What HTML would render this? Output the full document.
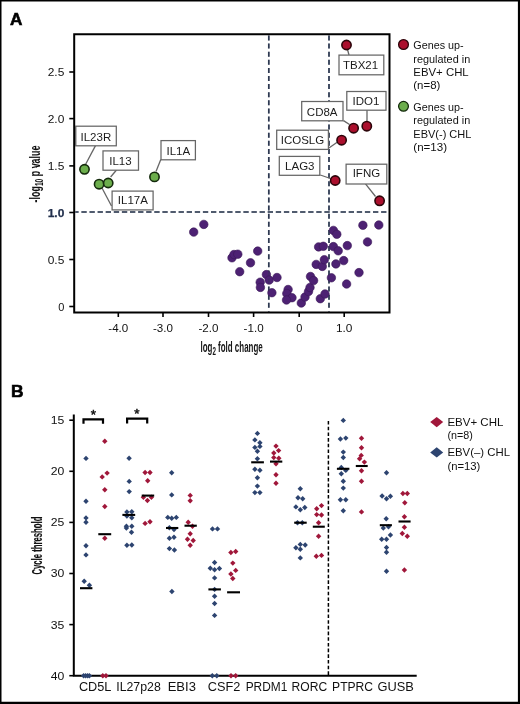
<!DOCTYPE html>
<html><head><meta charset="utf-8"><style>
html,body{margin:0;padding:0;background:#fff;}
body{width:520px;height:704px;overflow:hidden;position:relative;}
svg{position:absolute;left:0;top:0;will-change:transform;}
text{font-family:"Liberation Sans", sans-serif;}
</style></head><body>

<svg width="520" height="704" viewBox="0 0 520 704" font-family='"Liberation Sans", sans-serif'>
<path d="M0 0H520V704H0Z M1.5 1.5V701.8H517.9V1.5Z" fill="#000" fill-rule="evenodd"/>
<line x1="268.8" y1="35.5" x2="268.8" y2="311.5" stroke="#2e3a52" stroke-width="1.7" stroke-dasharray="5 3.1"/>
<line x1="329" y1="35.5" x2="329" y2="311.5" stroke="#2e3a52" stroke-width="1.7" stroke-dasharray="5 3.1"/>
<line x1="75.3" y1="212" x2="388.5" y2="212" stroke="#2e3a52" stroke-width="1.5" stroke-dasharray="5.3 2.8" stroke-dashoffset="2"/>
<circle cx="203.8" cy="224.4" r="4.25" fill="#4d2173" stroke="#3a1858" stroke-width="0.6"/>
<circle cx="193.7" cy="232.1" r="4.25" fill="#4d2173" stroke="#3a1858" stroke-width="0.6"/>
<circle cx="232" cy="257.8" r="4.25" fill="#4d2173" stroke="#3a1858" stroke-width="0.6"/>
<circle cx="234" cy="254.5" r="4.25" fill="#4d2173" stroke="#3a1858" stroke-width="0.6"/>
<circle cx="237.8" cy="254.2" r="4.25" fill="#4d2173" stroke="#3a1858" stroke-width="0.6"/>
<circle cx="257.7" cy="251.1" r="4.25" fill="#4d2173" stroke="#3a1858" stroke-width="0.6"/>
<circle cx="250.5" cy="262.8" r="4.25" fill="#4d2173" stroke="#3a1858" stroke-width="0.6"/>
<circle cx="239.7" cy="271.7" r="4.25" fill="#4d2173" stroke="#3a1858" stroke-width="0.6"/>
<circle cx="266.4" cy="274.6" r="4.25" fill="#4d2173" stroke="#3a1858" stroke-width="0.6"/>
<circle cx="269.2" cy="280.1" r="4.25" fill="#4d2173" stroke="#3a1858" stroke-width="0.6"/>
<circle cx="277" cy="277.5" r="4.25" fill="#4d2173" stroke="#3a1858" stroke-width="0.6"/>
<circle cx="260.2" cy="282.2" r="4.25" fill="#4d2173" stroke="#3a1858" stroke-width="0.6"/>
<circle cx="260.4" cy="287.4" r="4.25" fill="#4d2173" stroke="#3a1858" stroke-width="0.6"/>
<circle cx="271.9" cy="292.7" r="4.25" fill="#4d2173" stroke="#3a1858" stroke-width="0.6"/>
<circle cx="288.1" cy="289.5" r="4.25" fill="#4d2173" stroke="#3a1858" stroke-width="0.6"/>
<circle cx="286.8" cy="293.5" r="4.25" fill="#4d2173" stroke="#3a1858" stroke-width="0.6"/>
<circle cx="292" cy="297.7" r="4.25" fill="#4d2173" stroke="#3a1858" stroke-width="0.6"/>
<circle cx="286.5" cy="300" r="4.25" fill="#4d2173" stroke="#3a1858" stroke-width="0.6"/>
<circle cx="301.3" cy="303" r="4.25" fill="#4d2173" stroke="#3a1858" stroke-width="0.6"/>
<circle cx="305" cy="297" r="4.25" fill="#4d2173" stroke="#3a1858" stroke-width="0.6"/>
<circle cx="308.5" cy="291.5" r="4.25" fill="#4d2173" stroke="#3a1858" stroke-width="0.6"/>
<circle cx="310" cy="287.5" r="4.25" fill="#4d2173" stroke="#3a1858" stroke-width="0.6"/>
<circle cx="310.5" cy="276.5" r="4.25" fill="#4d2173" stroke="#3a1858" stroke-width="0.6"/>
<circle cx="313.6" cy="280.6" r="4.25" fill="#4d2173" stroke="#3a1858" stroke-width="0.6"/>
<circle cx="320.3" cy="298.7" r="4.25" fill="#4d2173" stroke="#3a1858" stroke-width="0.6"/>
<circle cx="325" cy="294" r="4.25" fill="#4d2173" stroke="#3a1858" stroke-width="0.6"/>
<circle cx="316.2" cy="264.4" r="4.25" fill="#4d2173" stroke="#3a1858" stroke-width="0.6"/>
<circle cx="322.3" cy="266.4" r="4.25" fill="#4d2173" stroke="#3a1858" stroke-width="0.6"/>
<circle cx="324.3" cy="259.7" r="4.25" fill="#4d2173" stroke="#3a1858" stroke-width="0.6"/>
<circle cx="335.9" cy="263.9" r="4.25" fill="#4d2173" stroke="#3a1858" stroke-width="0.6"/>
<circle cx="343.7" cy="260.6" r="4.25" fill="#4d2173" stroke="#3a1858" stroke-width="0.6"/>
<circle cx="331.4" cy="277.8" r="4.25" fill="#4d2173" stroke="#3a1858" stroke-width="0.6"/>
<circle cx="346.6" cy="284" r="4.25" fill="#4d2173" stroke="#3a1858" stroke-width="0.6"/>
<circle cx="359" cy="272.6" r="4.25" fill="#4d2173" stroke="#3a1858" stroke-width="0.6"/>
<circle cx="318.6" cy="246.9" r="4.25" fill="#4d2173" stroke="#3a1858" stroke-width="0.6"/>
<circle cx="323.3" cy="246.3" r="4.25" fill="#4d2173" stroke="#3a1858" stroke-width="0.6"/>
<circle cx="333.4" cy="246.6" r="4.25" fill="#4d2173" stroke="#3a1858" stroke-width="0.6"/>
<circle cx="338.2" cy="250.8" r="4.25" fill="#4d2173" stroke="#3a1858" stroke-width="0.6"/>
<circle cx="347.3" cy="245.6" r="4.25" fill="#4d2173" stroke="#3a1858" stroke-width="0.6"/>
<circle cx="333.4" cy="230.4" r="4.25" fill="#4d2173" stroke="#3a1858" stroke-width="0.6"/>
<circle cx="336.8" cy="234.3" r="4.25" fill="#4d2173" stroke="#3a1858" stroke-width="0.6"/>
<circle cx="362.9" cy="225.3" r="4.25" fill="#4d2173" stroke="#3a1858" stroke-width="0.6"/>
<circle cx="378.8" cy="225" r="4.25" fill="#4d2173" stroke="#3a1858" stroke-width="0.6"/>
<circle cx="367.5" cy="241.9" r="4.25" fill="#4d2173" stroke="#3a1858" stroke-width="0.6"/>
<line x1="268.8" y1="35.5" x2="268.8" y2="311.5" stroke="#2e3a52" stroke-width="1.4" stroke-opacity="0.4" stroke-dasharray="5 3.1"/>
<line x1="329" y1="35.5" x2="329" y2="311.5" stroke="#2e3a52" stroke-width="1.4" stroke-opacity="0.4" stroke-dasharray="5 3.1"/>
<line x1="75.3" y1="212" x2="388.5" y2="212" stroke="#2e3a52" stroke-width="1.4" stroke-opacity="0.4" stroke-dasharray="5.3 2.8" stroke-dashoffset="2"/>
<line x1="85.5" y1="164.5" x2="95.5" y2="145.6" stroke="#666666" stroke-width="1.3"/>
<line x1="110.6" y1="177" x2="116.5" y2="170" stroke="#666666" stroke-width="1.3"/>
<line x1="102" y1="188" x2="111.5" y2="206" stroke="#666666" stroke-width="1.3"/>
<line x1="156" y1="171.5" x2="160.8" y2="159.6" stroke="#666666" stroke-width="1.3"/>
<line x1="347.5" y1="49.5" x2="349" y2="55" stroke="#666666" stroke-width="1.3"/>
<line x1="367" y1="110" x2="367" y2="121" stroke="#666666" stroke-width="1.3"/>
<line x1="343.5" y1="120.6" x2="349.5" y2="124.5" stroke="#666666" stroke-width="1.3"/>
<line x1="328.9" y1="148" x2="337.5" y2="142" stroke="#666666" stroke-width="1.3"/>
<line x1="320.3" y1="175" x2="330.5" y2="178.5" stroke="#666666" stroke-width="1.3"/>
<line x1="365.5" y1="183.8" x2="375.5" y2="196.5" stroke="#666666" stroke-width="1.3"/>
<rect x="75.80" y="126.20" width="40.50" height="19.60" fill="#fff" stroke="#666666" stroke-width="1.25"/>
<text x="95.85" y="140.6" font-size="11.5" fill="#1c1c1c" text-anchor="middle">IL23R</text>
<rect x="103.00" y="150.90" width="35.50" height="19.30" fill="#fff" stroke="#666666" stroke-width="1.25"/>
<text x="120.45" y="164.5" font-size="11.5" fill="#1c1c1c" text-anchor="middle">IL13</text>
<rect x="112.10" y="191.10" width="41.00" height="18.80" fill="#fff" stroke="#666666" stroke-width="1.25"/>
<text x="132.9" y="204" font-size="11.5" fill="#1c1c1c" text-anchor="middle">IL17A</text>
<rect x="161.00" y="140.60" width="34.40" height="19.20" fill="#fff" stroke="#666666" stroke-width="1.25"/>
<text x="178.35" y="154.6" font-size="11.5" fill="#1c1c1c" text-anchor="middle">IL1A</text>
<rect x="339.00" y="55.10" width="44.80" height="19.70" fill="#fff" stroke="#666666" stroke-width="1.25"/>
<text x="360.6" y="68.6" font-size="11.5" fill="#1c1c1c" text-anchor="middle">TBX21</text>
<rect x="346.80" y="91.50" width="39.20" height="18.70" fill="#fff" stroke="#666666" stroke-width="1.25"/>
<text x="366" y="105.3" font-size="11.5" fill="#1c1c1c" text-anchor="middle">IDO1</text>
<rect x="301.70" y="101.50" width="41.30" height="19.30" fill="#fff" stroke="#666666" stroke-width="1.25"/>
<text x="322.2" y="115.9" font-size="11.5" fill="#1c1c1c" text-anchor="middle">CD8A</text>
<rect x="276.70" y="130.20" width="51.70" height="19.20" fill="#fff" stroke="#666666" stroke-width="1.25"/>
<text x="302.45" y="143.9" font-size="11.5" fill="#1c1c1c" text-anchor="middle">ICOSLG</text>
<rect x="279.30" y="156.40" width="40.50" height="18.90" fill="#fff" stroke="#666666" stroke-width="1.25"/>
<text x="299.8" y="170.1" font-size="11.5" fill="#1c1c1c" text-anchor="middle">LAG3</text>
<rect x="346.10" y="164.20" width="40.70" height="19.80" fill="#fff" stroke="#666666" stroke-width="1.25"/>
<text x="366.4" y="177.4" font-size="11.5" fill="#1c1c1c" text-anchor="middle">IFNG</text>
<circle cx="84.5" cy="169.3" r="4.65" fill="#6cae4c" stroke="#142a0c" stroke-width="1.6"/>
<circle cx="99.1" cy="184.2" r="4.65" fill="#6cae4c" stroke="#142a0c" stroke-width="1.6"/>
<circle cx="108.2" cy="183" r="4.65" fill="#6cae4c" stroke="#142a0c" stroke-width="1.6"/>
<circle cx="154.5" cy="176.9" r="4.65" fill="#6cae4c" stroke="#142a0c" stroke-width="1.6"/>
<circle cx="346.5" cy="45" r="4.65" fill="#ab0f2d" stroke="#2c050a" stroke-width="1.6"/>
<circle cx="353.6" cy="128.2" r="4.65" fill="#ab0f2d" stroke="#2c050a" stroke-width="1.6"/>
<circle cx="366.8" cy="126.2" r="4.65" fill="#ab0f2d" stroke="#2c050a" stroke-width="1.6"/>
<circle cx="341.6" cy="140.2" r="4.65" fill="#ab0f2d" stroke="#2c050a" stroke-width="1.6"/>
<circle cx="335.2" cy="180.5" r="4.65" fill="#ab0f2d" stroke="#2c050a" stroke-width="1.6"/>
<circle cx="379.6" cy="200.8" r="4.65" fill="#ab0f2d" stroke="#2c050a" stroke-width="1.6"/>
<path d="M74.2 34.3 H389.5 V312.5 H74.2 Z" fill="none" stroke="#000" stroke-width="2"/>
<line x1="69.3" y1="72" x2="74" y2="72" stroke="#000" stroke-width="1.6"/>
<text x="64.3" y="76" font-size="11" fill="#111" text-anchor="end" textLength="16.6" lengthAdjust="spacingAndGlyphs">2.5</text>
<line x1="69.3" y1="118.6" x2="74" y2="118.6" stroke="#000" stroke-width="1.6"/>
<text x="64.3" y="122.6" font-size="11" fill="#111" text-anchor="end" textLength="16.6" lengthAdjust="spacingAndGlyphs">2.0</text>
<line x1="69.3" y1="165.9" x2="74" y2="165.9" stroke="#000" stroke-width="1.6"/>
<text x="64.3" y="169.9" font-size="11" fill="#111" text-anchor="end" textLength="16.6" lengthAdjust="spacingAndGlyphs">1.5</text>
<line x1="69.3" y1="212.5" x2="74" y2="212.5" stroke="#000" stroke-width="1.6"/>
<text x="64.3" y="216.5" font-size="11" font-weight="bold" fill="#22304d" stroke="#22304d" stroke-width="0.25" text-anchor="end" textLength="16.6" lengthAdjust="spacingAndGlyphs">1.0</text>
<line x1="69.3" y1="259.5" x2="74" y2="259.5" stroke="#000" stroke-width="1.6"/>
<text x="64.3" y="263.5" font-size="11" fill="#111" text-anchor="end" textLength="16.6" lengthAdjust="spacingAndGlyphs">0.5</text>
<line x1="69.3" y1="306.5" x2="74" y2="306.5" stroke="#000" stroke-width="1.6"/>
<text x="64.3" y="310.5" font-size="11" fill="#111" text-anchor="end">0</text>
<line x1="118.3" y1="313" x2="118.3" y2="317" stroke="#000" stroke-width="1.6"/>
<text x="118.3" y="332" font-size="11" fill="#111" text-anchor="middle" textLength="20" lengthAdjust="spacingAndGlyphs">-4.0</text>
<line x1="163" y1="313" x2="163" y2="317" stroke="#000" stroke-width="1.6"/>
<text x="163" y="332" font-size="11" fill="#111" text-anchor="middle" textLength="20" lengthAdjust="spacingAndGlyphs">-3.0</text>
<line x1="208.5" y1="313" x2="208.5" y2="317" stroke="#000" stroke-width="1.6"/>
<text x="208.5" y="332" font-size="11" fill="#111" text-anchor="middle" textLength="20" lengthAdjust="spacingAndGlyphs">-2.0</text>
<line x1="253.6" y1="313" x2="253.6" y2="317" stroke="#000" stroke-width="1.6"/>
<text x="253.6" y="332" font-size="11" fill="#111" text-anchor="middle" textLength="20" lengthAdjust="spacingAndGlyphs">-1.0</text>
<line x1="299.2" y1="313" x2="299.2" y2="317" stroke="#000" stroke-width="1.6"/>
<text x="299.2" y="332" font-size="11" fill="#111" text-anchor="middle">0</text>
<line x1="344.2" y1="313" x2="344.2" y2="317" stroke="#000" stroke-width="1.6"/>
<text x="344.2" y="332" font-size="11" fill="#111" text-anchor="middle" textLength="16.5" lengthAdjust="spacingAndGlyphs">1.0</text>
<text x="200.5" y="351.6" font-size="14" font-weight="bold" textLength="62.2" lengthAdjust="spacingAndGlyphs" fill="#161616">log<tspan font-size="11" dy="3.6">2</tspan><tspan dy="-3.6"> fold change</tspan></text>
<g transform="translate(39.9 202.4) rotate(-90)"><text x="0" y="0" font-size="14" font-weight="bold" textLength="56.8" lengthAdjust="spacingAndGlyphs" fill="#111" stroke="#111" stroke-width="0.05">-log<tspan font-size="10.5" dy="3">10</tspan><tspan dy="-3"> p value</tspan></text></g>
<circle cx="403.5" cy="44.5" r="4.9" fill="#ab0f2d" stroke="#2c050a" stroke-width="1.3"/>
<circle cx="403.5" cy="106.3" r="4.9" fill="#6cae4c" stroke="#142a0c" stroke-width="1.3"/>
<text x="413.3" y="49.2" font-size="10.8" textLength="50.3" lengthAdjust="spacingAndGlyphs" fill="#111">Genes up-</text>
<text x="413.3" y="62.5" font-size="10.8" textLength="56.9" lengthAdjust="spacingAndGlyphs" fill="#111">regulated in</text>
<text x="413.3" y="76" font-size="10.8" textLength="55.4" lengthAdjust="spacingAndGlyphs" fill="#111">EBV+ CHL</text>
<text x="413.3" y="89.3" font-size="10.8" textLength="27.1" lengthAdjust="spacingAndGlyphs" fill="#111">(n=8)</text>
<text x="413.3" y="110.9" font-size="10.8" textLength="50.3" lengthAdjust="spacingAndGlyphs" fill="#111">Genes up-</text>
<text x="413.3" y="124.2" font-size="10.8" textLength="56.9" lengthAdjust="spacingAndGlyphs" fill="#111">regulated in</text>
<text x="413.3" y="137.5" font-size="10.8" textLength="58.1" lengthAdjust="spacingAndGlyphs" fill="#111">EBV(-) CHL</text>
<text x="413.3" y="150.8" font-size="10.8" textLength="33.8" lengthAdjust="spacingAndGlyphs" fill="#111">(n=13)</text>
<text x="10.1" y="25.4" font-size="17.4" font-weight="bold" fill="#000" stroke="#000" stroke-width="0.6" textLength="12.4" lengthAdjust="spacingAndGlyphs">A</text>
<text x="10.9" y="397.1" font-size="17.4" font-weight="bold" fill="#000" stroke="#000" stroke-width="0.6">B</text>
<line x1="328.4" y1="421" x2="328.4" y2="675" stroke="#000" stroke-width="1.5" stroke-dasharray="3.6 2.09"/>
<path d="M73.8 414.6 V675.7 H416.7" fill="none" stroke="#000" stroke-width="2"/>
<line x1="69.3" y1="420.2" x2="73.5" y2="420.2" stroke="#000" stroke-width="1.6"/>
<text x="64.3" y="424.09999999999997" font-size="11" fill="#111" text-anchor="end" textLength="13.6" lengthAdjust="spacingAndGlyphs">15</text>
<line x1="69.3" y1="471.3" x2="73.5" y2="471.3" stroke="#000" stroke-width="1.6"/>
<text x="64.3" y="475.2" font-size="11" fill="#111" text-anchor="end" textLength="13.6" lengthAdjust="spacingAndGlyphs">20</text>
<line x1="69.3" y1="522.4" x2="73.5" y2="522.4" stroke="#000" stroke-width="1.6"/>
<text x="64.3" y="526.3" font-size="11" fill="#111" text-anchor="end" textLength="13.6" lengthAdjust="spacingAndGlyphs">25</text>
<line x1="69.3" y1="573.5" x2="73.5" y2="573.5" stroke="#000" stroke-width="1.6"/>
<text x="64.3" y="577.4" font-size="11" fill="#111" text-anchor="end" textLength="13.6" lengthAdjust="spacingAndGlyphs">30</text>
<line x1="69.3" y1="624.6" x2="73.5" y2="624.6" stroke="#000" stroke-width="1.6"/>
<text x="64.3" y="628.5" font-size="11" fill="#111" text-anchor="end" textLength="13.6" lengthAdjust="spacingAndGlyphs">35</text>
<line x1="69.3" y1="675.7" x2="73.5" y2="675.7" stroke="#000" stroke-width="1.6"/>
<text x="64.3" y="679.6" font-size="11" fill="#111" text-anchor="end" textLength="13.6" lengthAdjust="spacingAndGlyphs">40</text>
<text x="95.2" y="690.7" font-size="12" fill="#111" text-anchor="middle" textLength="32.5" lengthAdjust="spacingAndGlyphs">CD5L</text>
<text x="138.5" y="690.7" font-size="12" fill="#111" text-anchor="middle" textLength="44.5" lengthAdjust="spacingAndGlyphs">IL27p28</text>
<text x="181.8" y="690.7" font-size="12" fill="#111" text-anchor="middle" textLength="28.2" lengthAdjust="spacingAndGlyphs">EBI3</text>
<text x="224" y="690.7" font-size="12" fill="#111" text-anchor="middle" textLength="32.6" lengthAdjust="spacingAndGlyphs">CSF2</text>
<text x="266.5" y="690.7" font-size="12" fill="#111" text-anchor="middle" textLength="41.6" lengthAdjust="spacingAndGlyphs">PRDM1</text>
<text x="309.4" y="690.7" font-size="12" fill="#111" text-anchor="middle" textLength="35.6" lengthAdjust="spacingAndGlyphs">RORC</text>
<text x="352.6" y="690.7" font-size="12" fill="#111" text-anchor="middle" textLength="41" lengthAdjust="spacingAndGlyphs">PTPRC</text>
<text x="395.6" y="690.7" font-size="12" fill="#111" text-anchor="middle" textLength="36.4" lengthAdjust="spacingAndGlyphs">GUSB</text>
<path d="M86 455.7L88.7 458.4L86 461.09999999999997L83.3 458.4Z" fill="#2d4470"/>
<path d="M86 498.5L88.7 501.2L86 503.9L83.3 501.2Z" fill="#2d4470"/>
<path d="M86 515.1999999999999L88.7 517.9L86 520.6L83.3 517.9Z" fill="#2d4470"/>
<path d="M86 519.5L88.7 522.2L86 524.9000000000001L83.3 522.2Z" fill="#2d4470"/>
<path d="M86 543.0999999999999L88.7 545.8L86 548.5L83.3 545.8Z" fill="#2d4470"/>
<path d="M86 552.1999999999999L88.7 554.9L86 557.6L83.3 554.9Z" fill="#2d4470"/>
<path d="M84.2 578.5999999999999L86.9 581.3L84.2 584.0L81.5 581.3Z" fill="#2d4470"/>
<path d="M89.4 582.5999999999999L92.10000000000001 585.3L89.4 588.0L86.7 585.3Z" fill="#2d4470"/>
<path d="M83.6 673.0L86.3 675.7L83.6 678.4000000000001L80.89999999999999 675.7Z" fill="#2d4470"/>
<path d="M85.6 673.0L88.3 675.7L85.6 678.4000000000001L82.89999999999999 675.7Z" fill="#2d4470"/>
<path d="M87.6 673.0L90.3 675.7L87.6 678.4000000000001L84.89999999999999 675.7Z" fill="#2d4470"/>
<path d="M89.4 673.0L92.10000000000001 675.7L89.4 678.4000000000001L86.7 675.7Z" fill="#2d4470"/>
<path d="M129.1 455.5L131.79999999999998 458.2L129.1 460.9L126.39999999999999 458.2Z" fill="#2d4470"/>
<path d="M129.2 478.7L131.89999999999998 481.4L129.2 484.09999999999997L126.49999999999999 481.4Z" fill="#2d4470"/>
<path d="M129.2 488.90000000000003L131.89999999999998 491.6L129.2 494.3L126.49999999999999 491.6Z" fill="#2d4470"/>
<path d="M126.9 509.3L129.6 512L126.9 514.7L124.2 512Z" fill="#2d4470"/>
<path d="M131.8 509.1L134.5 511.8L131.8 514.5L129.10000000000002 511.8Z" fill="#2d4470"/>
<path d="M126.9 513.3L129.6 516L126.9 518.7L124.2 516Z" fill="#2d4470"/>
<path d="M131.8 515.0L134.5 517.7L131.8 520.4000000000001L129.10000000000002 517.7Z" fill="#2d4470"/>
<path d="M126.4 523.5L129.1 526.2L126.4 528.9000000000001L123.7 526.2Z" fill="#2d4470"/>
<path d="M131.8 523.5L134.5 526.2L131.8 528.9000000000001L129.10000000000002 526.2Z" fill="#2d4470"/>
<path d="M126.4 525.3L129.1 528L126.4 530.7L123.7 528Z" fill="#2d4470"/>
<path d="M131.5 529.5999999999999L134.2 532.3L131.5 535.0L128.8 532.3Z" fill="#2d4470"/>
<path d="M126.9 542.5L129.6 545.2L126.9 547.9000000000001L124.2 545.2Z" fill="#2d4470"/>
<path d="M131.8 542.3L134.5 545L131.8 547.7L129.10000000000002 545Z" fill="#2d4470"/>
<path d="M171.7 470.1L174.39999999999998 472.8L171.7 475.5L169.0 472.8Z" fill="#2d4470"/>
<path d="M171.7 492.2L174.39999999999998 494.9L171.7 497.59999999999997L169.0 494.9Z" fill="#2d4470"/>
<path d="M167.8 514.6999999999999L170.5 517.4L167.8 520.1L165.10000000000002 517.4Z" fill="#2d4470"/>
<path d="M171.7 515.5L174.39999999999998 518.2L171.7 520.9000000000001L169.0 518.2Z" fill="#2d4470"/>
<path d="M176.3 514.6999999999999L179.0 517.4L176.3 520.1L173.60000000000002 517.4Z" fill="#2d4470"/>
<path d="M169.4 525.0L172.1 527.7L169.4 530.4000000000001L166.70000000000002 527.7Z" fill="#2d4470"/>
<path d="M174 526.8L176.7 529.5L174 532.2L171.3 529.5Z" fill="#2d4470"/>
<path d="M169.4 535.5L172.1 538.2L169.4 540.9000000000001L166.70000000000002 538.2Z" fill="#2d4470"/>
<path d="M174 534.5L176.7 537.2L174 539.9000000000001L171.3 537.2Z" fill="#2d4470"/>
<path d="M169.4 545.9L172.1 548.6L169.4 551.3000000000001L166.70000000000002 548.6Z" fill="#2d4470"/>
<path d="M174.4 547.3L177.1 550L174.4 552.7L171.70000000000002 550Z" fill="#2d4470"/>
<path d="M171.9 588.8L174.6 591.5L171.9 594.2L169.20000000000002 591.5Z" fill="#2d4470"/>
<path d="M212.5 526.1999999999999L215.2 528.9L212.5 531.6L209.8 528.9Z" fill="#2d4470"/>
<path d="M217.5 526.1999999999999L220.2 528.9L217.5 531.6L214.8 528.9Z" fill="#2d4470"/>
<path d="M214.6 559.8L217.29999999999998 562.5L214.6 565.2L211.9 562.5Z" fill="#2d4470"/>
<path d="M210.3 565.5999999999999L213.0 568.3L210.3 571.0L207.60000000000002 568.3Z" fill="#2d4470"/>
<path d="M214.6 567.0999999999999L217.29999999999998 569.8L214.6 572.5L211.9 569.8Z" fill="#2d4470"/>
<path d="M219.4 565.8L222.1 568.5L219.4 571.2L216.70000000000002 568.5Z" fill="#2d4470"/>
<path d="M214.6 575.1999999999999L217.29999999999998 577.9L214.6 580.6L211.9 577.9Z" fill="#2d4470"/>
<path d="M214.6 586.6999999999999L217.29999999999998 589.4L214.6 592.1L211.9 589.4Z" fill="#2d4470"/>
<path d="M214.6 593.5999999999999L217.29999999999998 596.3L214.6 599.0L211.9 596.3Z" fill="#2d4470"/>
<path d="M214.6 600.8L217.29999999999998 603.5L214.6 606.2L211.9 603.5Z" fill="#2d4470"/>
<path d="M214.6 612.6999999999999L217.29999999999998 615.4L214.6 618.1L211.9 615.4Z" fill="#2d4470"/>
<path d="M212.3 673.0L215.0 675.7L212.3 678.4000000000001L209.60000000000002 675.7Z" fill="#2d4470"/>
<path d="M216.8 673.0L219.5 675.7L216.8 678.4000000000001L214.10000000000002 675.7Z" fill="#2d4470"/>
<path d="M257.4 430.7L260.09999999999997 433.4L257.4 436.09999999999997L254.7 433.4Z" fill="#2d4470"/>
<path d="M254.9 437.2L257.6 439.9L254.9 442.59999999999997L252.20000000000002 439.9Z" fill="#2d4470"/>
<path d="M259.9 440.0L262.59999999999997 442.7L259.9 445.4L257.2 442.7Z" fill="#2d4470"/>
<path d="M254.9 444.7L257.6 447.4L254.9 450.09999999999997L252.20000000000002 447.4Z" fill="#2d4470"/>
<path d="M259.9 443.7L262.59999999999997 446.4L259.9 449.09999999999997L257.2 446.4Z" fill="#2d4470"/>
<path d="M257.4 448.6L260.09999999999997 451.3L257.4 454.0L254.7 451.3Z" fill="#2d4470"/>
<path d="M257.4 456.1L260.09999999999997 458.8L257.4 461.5L254.7 458.8Z" fill="#2d4470"/>
<path d="M254.9 466.5L257.6 469.2L254.9 471.9L252.20000000000002 469.2Z" fill="#2d4470"/>
<path d="M259.9 467.5L262.59999999999997 470.2L259.9 472.9L257.2 470.2Z" fill="#2d4470"/>
<path d="M257.4 475.0L260.09999999999997 477.7L257.4 480.4L254.7 477.7Z" fill="#2d4470"/>
<path d="M257.4 483.40000000000003L260.09999999999997 486.1L257.4 488.8L254.7 486.1Z" fill="#2d4470"/>
<path d="M254.9 489.90000000000003L257.6 492.6L254.9 495.3L252.20000000000002 492.6Z" fill="#2d4470"/>
<path d="M259.9 489.90000000000003L262.59999999999997 492.6L259.9 495.3L257.2 492.6Z" fill="#2d4470"/>
<path d="M300.3 486.0L303.0 488.7L300.3 491.4L297.6 488.7Z" fill="#2d4470"/>
<path d="M298 495.0L300.7 497.7L298 500.4L295.3 497.7Z" fill="#2d4470"/>
<path d="M302.7 496.1L305.4 498.8L302.7 501.5L300.0 498.8Z" fill="#2d4470"/>
<path d="M295.9 504.2L298.59999999999997 506.9L295.9 509.59999999999997L293.2 506.9Z" fill="#2d4470"/>
<path d="M300.3 507.1L303.0 509.8L300.3 512.5L297.6 509.8Z" fill="#2d4470"/>
<path d="M304.8 504.8L307.5 507.5L304.8 510.2L302.1 507.5Z" fill="#2d4470"/>
<path d="M297.5 520.0L300.2 522.7L297.5 525.4000000000001L294.8 522.7Z" fill="#2d4470"/>
<path d="M302.3 520.0L305.0 522.7L302.3 525.4000000000001L299.6 522.7Z" fill="#2d4470"/>
<path d="M300.3 541.6999999999999L303.0 544.4L300.3 547.1L297.6 544.4Z" fill="#2d4470"/>
<path d="M305.2 542.3L307.9 545L305.2 547.7L302.5 545Z" fill="#2d4470"/>
<path d="M295.9 545.0L298.59999999999997 547.7L295.9 550.4000000000001L293.2 547.7Z" fill="#2d4470"/>
<path d="M300.3 546.5L303.0 549.2L300.3 551.9000000000001L297.6 549.2Z" fill="#2d4470"/>
<path d="M300.3 555.1999999999999L303.0 557.9L300.3 560.6L297.6 557.9Z" fill="#2d4470"/>
<path d="M343.3 417.7L346.0 420.4L343.3 423.09999999999997L340.6 420.4Z" fill="#2d4470"/>
<path d="M340.4 436.3L343.09999999999997 439L340.4 441.7L337.7 439Z" fill="#2d4470"/>
<path d="M345.8 435.40000000000003L348.5 438.1L345.8 440.8L343.1 438.1Z" fill="#2d4470"/>
<path d="M343.3 449.40000000000003L346.0 452.1L343.3 454.8L340.6 452.1Z" fill="#2d4470"/>
<path d="M343.3 454.8L346.0 457.5L343.3 460.2L340.6 457.5Z" fill="#2d4470"/>
<path d="M341.3 464.8L344.0 467.5L341.3 470.2L338.6 467.5Z" fill="#2d4470"/>
<path d="M345.8 467.7L348.5 470.4L345.8 473.09999999999997L343.1 470.4Z" fill="#2d4470"/>
<path d="M341.3 471.0L344.0 473.7L341.3 476.4L338.6 473.7Z" fill="#2d4470"/>
<path d="M343.3 478.6L346.0 481.3L343.3 484.0L340.6 481.3Z" fill="#2d4470"/>
<path d="M343.3 485.40000000000003L346.0 488.1L343.3 490.8L340.6 488.1Z" fill="#2d4470"/>
<path d="M340.4 497.1L343.09999999999997 499.8L340.4 502.5L337.7 499.8Z" fill="#2d4470"/>
<path d="M345.8 497.1L348.5 499.8L345.8 502.5L343.1 499.8Z" fill="#2d4470"/>
<path d="M343.3 508.1L346.0 510.8L343.3 513.5L340.6 510.8Z" fill="#2d4470"/>
<path d="M386.5 470.0L389.2 472.7L386.5 475.4L383.8 472.7Z" fill="#2d4470"/>
<path d="M382.1 493.3L384.8 496L382.1 498.7L379.40000000000003 496Z" fill="#2d4470"/>
<path d="M386.5 496.1L389.2 498.8L386.5 501.5L383.8 498.8Z" fill="#2d4470"/>
<path d="M390.4 493.6L393.09999999999997 496.3L390.4 499.0L387.7 496.3Z" fill="#2d4470"/>
<path d="M386.2 516.0L388.9 518.7L386.2 521.4000000000001L383.5 518.7Z" fill="#2d4470"/>
<path d="M383.3 525.4L386.0 528.1L383.3 530.8000000000001L380.6 528.1Z" fill="#2d4470"/>
<path d="M388.5 524.0L391.2 526.7L388.5 529.4000000000001L385.8 526.7Z" fill="#2d4470"/>
<path d="M390.4 532.3L393.09999999999997 535L390.4 537.7L387.7 535Z" fill="#2d4470"/>
<path d="M381.7 536.5L384.4 539.2L381.7 541.9000000000001L379.0 539.2Z" fill="#2d4470"/>
<path d="M386.5 536.5L389.2 539.2L386.5 541.9000000000001L383.8 539.2Z" fill="#2d4470"/>
<path d="M386.5 544.8L389.2 547.5L386.5 550.2L383.8 547.5Z" fill="#2d4470"/>
<path d="M386.5 549.5999999999999L389.2 552.3L386.5 555.0L383.8 552.3Z" fill="#2d4470"/>
<path d="M386.5 568.5999999999999L389.2 571.3L386.5 574.0L383.8 571.3Z" fill="#2d4470"/>
<path d="M104.8 438.5L107.5 441.2L104.8 443.9L102.1 441.2Z" fill="#a0173a"/>
<path d="M107.1 470.40000000000003L109.8 473.1L107.1 475.8L104.39999999999999 473.1Z" fill="#a0173a"/>
<path d="M102.2 474.2L104.9 476.9L102.2 479.59999999999997L99.5 476.9Z" fill="#a0173a"/>
<path d="M104.8 487.1L107.5 489.8L104.8 492.5L102.1 489.8Z" fill="#a0173a"/>
<path d="M104.8 503.8L107.5 506.5L104.8 509.2L102.1 506.5Z" fill="#a0173a"/>
<path d="M104.8 535.5L107.5 538.2L104.8 540.9000000000001L102.1 538.2Z" fill="#a0173a"/>
<path d="M102.8 673.0L105.5 675.7L102.8 678.4000000000001L100.1 675.7Z" fill="#a0173a"/>
<path d="M106 673.0L108.7 675.7L106 678.4000000000001L103.3 675.7Z" fill="#a0173a"/>
<path d="M145.1 469.8L147.79999999999998 472.5L145.1 475.2L142.4 472.5Z" fill="#a0173a"/>
<path d="M150 469.8L152.7 472.5L150 475.2L147.3 472.5Z" fill="#a0173a"/>
<path d="M147.7 478.1L150.39999999999998 480.8L147.7 483.5L145.0 480.8Z" fill="#a0173a"/>
<path d="M143.4 494.6L146.1 497.3L143.4 500.0L140.70000000000002 497.3Z" fill="#a0173a"/>
<path d="M147.4 497.8L150.1 500.5L147.4 503.2L144.70000000000002 500.5Z" fill="#a0173a"/>
<path d="M151.4 494.6L154.1 497.3L151.4 500.0L148.70000000000002 497.3Z" fill="#a0173a"/>
<path d="M145.1 520.6999999999999L147.79999999999998 523.4L145.1 526.1L142.4 523.4Z" fill="#a0173a"/>
<path d="M150 519.0L152.7 521.7L150 524.4000000000001L147.3 521.7Z" fill="#a0173a"/>
<path d="M190.2 492.7L192.89999999999998 495.4L190.2 498.09999999999997L187.5 495.4Z" fill="#a0173a"/>
<path d="M190.2 498.1L192.89999999999998 500.8L190.2 503.5L187.5 500.8Z" fill="#a0173a"/>
<path d="M188.2 519.5999999999999L190.89999999999998 522.3L188.2 525.0L185.5 522.3Z" fill="#a0173a"/>
<path d="M192.5 523.5L195.2 526.2L192.5 528.9000000000001L189.8 526.2Z" fill="#a0173a"/>
<path d="M190.2 531.0999999999999L192.89999999999998 533.8L190.2 536.5L187.5 533.8Z" fill="#a0173a"/>
<path d="M187.5 536.5L190.2 539.2L187.5 541.9000000000001L184.8 539.2Z" fill="#a0173a"/>
<path d="M193.2 537.8L195.89999999999998 540.5L193.2 543.2L190.5 540.5Z" fill="#a0173a"/>
<path d="M190.2 542.5999999999999L192.89999999999998 545.3L190.2 548.0L187.5 545.3Z" fill="#a0173a"/>
<path d="M230.9 549.8L233.6 552.5L230.9 555.2L228.20000000000002 552.5Z" fill="#a0173a"/>
<path d="M235.7 548.8L238.39999999999998 551.5L235.7 554.2L233.0 551.5Z" fill="#a0173a"/>
<path d="M232.8 560.4L235.5 563.1L232.8 565.8000000000001L230.10000000000002 563.1Z" fill="#a0173a"/>
<path d="M235.7 567.6999999999999L238.39999999999998 570.4L235.7 573.1L233.0 570.4Z" fill="#a0173a"/>
<path d="M230.9 571.3L233.6 574L230.9 576.7L228.20000000000002 574Z" fill="#a0173a"/>
<path d="M232.8 575.8L235.5 578.5L232.8 581.2L230.10000000000002 578.5Z" fill="#a0173a"/>
<path d="M231 673.0L233.7 675.7L231 678.4000000000001L228.3 675.7Z" fill="#a0173a"/>
<path d="M235.7 673.0L238.39999999999998 675.7L235.7 678.4000000000001L233.0 675.7Z" fill="#a0173a"/>
<path d="M276 443.40000000000003L278.7 446.1L276 448.8L273.3 446.1Z" fill="#a0173a"/>
<path d="M278.6 447.90000000000003L281.3 450.6L278.6 453.3L275.90000000000003 450.6Z" fill="#a0173a"/>
<path d="M273.8 450.3L276.5 453L273.8 455.7L271.1 453Z" fill="#a0173a"/>
<path d="M273.8 454.90000000000003L276.5 457.6L273.8 460.3L271.1 457.6Z" fill="#a0173a"/>
<path d="M278.8 455.6L281.5 458.3L278.8 461.0L276.1 458.3Z" fill="#a0173a"/>
<path d="M276 461.1L278.7 463.8L276 466.5L273.3 463.8Z" fill="#a0173a"/>
<path d="M276 472.0L278.7 474.7L276 477.4L273.3 474.7Z" fill="#a0173a"/>
<path d="M276 480.5L278.7 483.2L276 485.9L273.3 483.2Z" fill="#a0173a"/>
<path d="M316.7 506.1L319.4 508.8L316.7 511.5L314.0 508.8Z" fill="#a0173a"/>
<path d="M321.5 502.90000000000003L324.2 505.6L321.5 508.3L318.8 505.6Z" fill="#a0173a"/>
<path d="M316.7 511.90000000000003L319.4 514.6L316.7 517.3000000000001L314.0 514.6Z" fill="#a0173a"/>
<path d="M321.5 512.3L324.2 515L321.5 517.7L318.8 515Z" fill="#a0173a"/>
<path d="M318.6 520.0L321.3 522.7L318.6 525.4000000000001L315.90000000000003 522.7Z" fill="#a0173a"/>
<path d="M318.6 533.5999999999999L321.3 536.3L318.6 539.0L315.90000000000003 536.3Z" fill="#a0173a"/>
<path d="M316.3 553.5999999999999L319.0 556.3L316.3 559.0L313.6 556.3Z" fill="#a0173a"/>
<path d="M321.5 552.6999999999999L324.2 555.4L321.5 558.1L318.8 555.4Z" fill="#a0173a"/>
<path d="M361.5 435.6L364.2 438.3L361.5 441.0L358.8 438.3Z" fill="#a0173a"/>
<path d="M361.5 445.0L364.2 447.7L361.5 450.4L358.8 447.7Z" fill="#a0173a"/>
<path d="M361.2 452.7L363.9 455.4L361.2 458.09999999999997L358.5 455.4Z" fill="#a0173a"/>
<path d="M359.6 456.1L362.3 458.8L359.6 461.5L356.90000000000003 458.8Z" fill="#a0173a"/>
<path d="M364.4 459.40000000000003L367.09999999999997 462.1L364.4 464.8L361.7 462.1Z" fill="#a0173a"/>
<path d="M361.5 468.1L364.2 470.8L361.5 473.5L358.8 470.8Z" fill="#a0173a"/>
<path d="M361.5 478.6L364.2 481.3L361.5 484.0L358.8 481.3Z" fill="#a0173a"/>
<path d="M361.5 509.2L364.2 511.9L361.5 514.6L358.8 511.9Z" fill="#a0173a"/>
<path d="M402.9 490.8L405.59999999999997 493.5L402.9 496.2L400.2 493.5Z" fill="#a0173a"/>
<path d="M407.3 490.8L410.0 493.5L407.3 496.2L404.6 493.5Z" fill="#a0173a"/>
<path d="M404.8 500.0L407.5 502.7L404.8 505.4L402.1 502.7Z" fill="#a0173a"/>
<path d="M404.4 514.0L407.09999999999997 516.7L404.4 519.4000000000001L401.7 516.7Z" fill="#a0173a"/>
<path d="M404.4 524.5999999999999L407.09999999999997 527.3L404.4 530.0L401.7 527.3Z" fill="#a0173a"/>
<path d="M402.3 530.8L405.0 533.5L402.3 536.2L399.6 533.5Z" fill="#a0173a"/>
<path d="M407.3 533.5999999999999L410.0 536.3L407.3 539.0L404.6 536.3Z" fill="#a0173a"/>
<path d="M404.4 567.3L407.09999999999997 570L404.4 572.7L401.7 570Z" fill="#a0173a"/>
<line x1="80" y1="588.2" x2="92.4" y2="588.2" stroke="#000" stroke-width="2.1"/>
<line x1="98.3" y1="534.2" x2="111.2" y2="534.2" stroke="#000" stroke-width="2.1"/>
<line x1="122.4" y1="514.9" x2="135.2" y2="514.9" stroke="#000" stroke-width="2.1"/>
<line x1="141.7" y1="495.6" x2="154.2" y2="495.6" stroke="#000" stroke-width="2.1"/>
<line x1="166" y1="528" x2="178.3" y2="528" stroke="#000" stroke-width="2.1"/>
<line x1="184.5" y1="525.7" x2="196.8" y2="525.7" stroke="#000" stroke-width="2.1"/>
<line x1="208.4" y1="589.4" x2="220.9" y2="589.4" stroke="#000" stroke-width="2.1"/>
<line x1="227.1" y1="592.3" x2="240" y2="592.3" stroke="#000" stroke-width="2.1"/>
<line x1="251.2" y1="462.3" x2="263.9" y2="462.3" stroke="#000" stroke-width="2.1"/>
<line x1="270" y1="461.6" x2="282.3" y2="461.6" stroke="#000" stroke-width="2.1"/>
<line x1="294.2" y1="522.7" x2="306.7" y2="522.7" stroke="#000" stroke-width="2.1"/>
<line x1="312.8" y1="526.7" x2="324.8" y2="526.7" stroke="#000" stroke-width="2.1"/>
<line x1="336.9" y1="468.8" x2="349.4" y2="468.8" stroke="#000" stroke-width="2.1"/>
<line x1="355.8" y1="466" x2="367.7" y2="466" stroke="#000" stroke-width="2.1"/>
<line x1="379.8" y1="525.2" x2="391.9" y2="525.2" stroke="#000" stroke-width="2.1"/>
<line x1="398.5" y1="521.5" x2="410.6" y2="521.5" stroke="#000" stroke-width="2.1"/>
<path d="M83.5 423.8 V419.3 H103 V423.8" fill="none" stroke="#000" stroke-width="2.2"/>
<path d="M127.1 423.6 V418.6 H147.2 V423.6" fill="none" stroke="#000" stroke-width="2.2"/>
<text x="93.5" y="419" font-size="13.5" fill="#111" stroke="#111" stroke-width="0.5" text-anchor="middle">*</text>
<text x="136.9" y="418.3" font-size="13.5" fill="#111" stroke="#111" stroke-width="0.5" text-anchor="middle">*</text>
<path d="M436.7 416.9L443.2 422.1L436.7 427.3L430.2 422.1Z" fill="#a0173a"/>
<path d="M436.7 447.2L443.2 452.4L436.7 457.6L430.2 452.4Z" fill="#2d4470"/>
<text x="447.4" y="425.9" font-size="11.2" textLength="56" lengthAdjust="spacingAndGlyphs" fill="#111">EBV+ CHL</text>
<text x="447.4" y="439.1" font-size="10.8" textLength="25.4" lengthAdjust="spacingAndGlyphs" fill="#111">(n=8)</text>
<text x="447.4" y="456.4" font-size="11.2" textLength="62.6" lengthAdjust="spacingAndGlyphs" fill="#111">EBV(–) CHL</text>
<text x="447.4" y="470.2" font-size="10.8" textLength="33" lengthAdjust="spacingAndGlyphs" fill="#111">(n=13)</text>
<g transform="translate(41.9 574.6) rotate(-90)"><text x="0" y="0" font-size="14" font-weight="bold" textLength="58" lengthAdjust="spacingAndGlyphs" fill="#111" stroke="#111" stroke-width="0.15">Cycle threshold</text></g>
</svg>
</body></html>
